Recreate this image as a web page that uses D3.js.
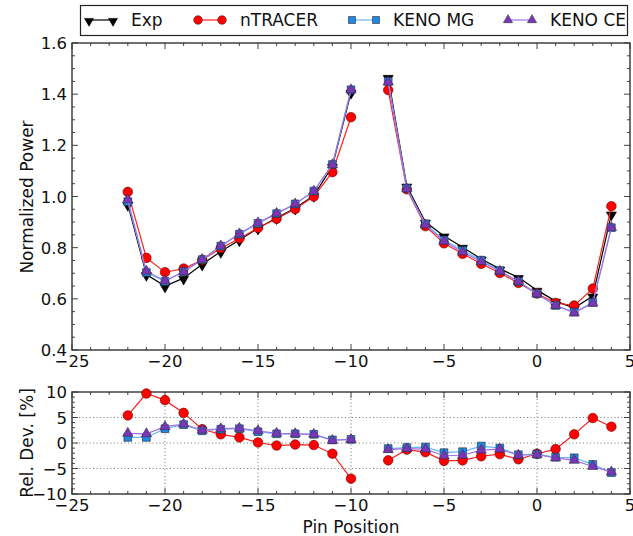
<!DOCTYPE html>
<html><head><meta charset="utf-8">
<script src="https://cdn.jsdelivr.net/npm/d3@7"></script>
<style>body{margin:0;background:#fff}svg{display:block;font-family:"DejaVu Sans",sans-serif}</style>
</head><body><svg id="c" width="633" height="536"></svg>
<script>
const pins = [-22,-21,-20,-19,-18,-17,-16,-15,-14,-13,-12,-11,-10,-8,-7,-6,-5,-4,-3,-2,-1,0,1,2,3,4];
const expPower = [0.969,0.695,0.650,0.681,0.735,0.785,0.830,0.876,0.917,0.954,1.004,1.118,1.407,1.466,1.041,0.900,0.846,0.802,0.756,0.717,0.684,0.634,0.591,0.564,0.611,0.932];
const ntracerPower = [1.018,0.760,0.704,0.718,0.752,0.798,0.836,0.877,0.913,0.951,1.000,1.095,1.310,1.416,1.028,0.884,0.817,0.776,0.737,0.701,0.662,0.621,0.584,0.574,0.640,0.962];
const kenoMGPower = [0.980,0.703,0.668,0.706,0.753,0.806,0.853,0.895,0.933,0.971,1.021,1.125,1.417,1.450,1.032,0.893,0.830,0.789,0.751,0.710,0.668,0.620,0.574,0.548,0.586,0.878];
const kenoCEPower = [0.987,0.708,0.671,0.706,0.754,0.807,0.854,0.897,0.934,0.971,1.021,1.124,1.417,1.447,1.030,0.889,0.825,0.783,0.745,0.708,0.668,0.619,0.574,0.545,0.583,0.879];
const ntracerDev = [5.4,9.7,8.4,5.9,2.7,1.7,1.1,0.1,-0.5,-0.3,-0.4,-2.1,-7.0,-3.4,-1.3,-1.8,-3.5,-3.4,-2.6,-2.2,-3.2,-2.1,-1.2,1.7,4.9,3.2];
const kenoMGDev = [1.1,1.1,2.8,3.6,2.4,2.7,2.8,2.2,1.8,1.8,1.7,0.6,0.7,-1.1,-0.9,-0.8,-1.9,-1.7,-0.6,-1.0,-2.3,-2.2,-2.8,-2.9,-4.2,-5.8];
const kenoCEDev = [1.9,1.8,3.2,3.7,2.5,2.8,2.9,2.4,1.9,1.8,1.7,0.5,0.7,-1.3,-1.1,-1.2,-2.5,-2.4,-1.4,-1.2,-2.4,-2.3,-2.9,-3.4,-4.6,-5.7];
const xTicks = [-25,-20,-15,-10,-5,0,5];
const yTicksTop = [0.4,0.6,0.8,1.0,1.2,1.4,1.6];
const yTicksBot = [-10,-5,0,5,10];
const seriesNames = ["Exp","nTRACER","KENO MG","KENO CE"];

const svg = d3.select("#c");
const L = 72, R = 630;
const x = d3.scaleLinear().domain([-25,5]).range([L,R]);
const yT = d3.scaleLinear().domain([0.4,1.6]).range([350,43]);
const yB = d3.scaleLinear().domain([-10,10]).range([494,392]);
const fmtMinus = s => String(s).replace("-", "\u2212");

const styles = {
  "Exp": {line:"#000", fill:"#000", stroke:"#000", sym:d3.symbolTriangle, size:44, rot:180},
  "nTRACER": {line:"#ff2020", fill:"#ff0000", stroke:"#600", sym:d3.symbolCircle, size:72, rot:0},
  "KENO MG": {line:"#6ab8f5", fill:"#1e8ae6", stroke:"#223", sym:d3.symbolSquare, size:60, rot:0},
  "KENO CE": {line:"#a070e8", fill:"#7a35b8", stroke:"#334", sym:d3.symbolTriangle, size:46, rot:0}
};

function frame(g, y, yTicks, yMinorStep, xMinor, grid, yfmt){
  const top = y.range()[1], bot = y.range()[0];
  const [y0,y1] = y.domain();
  if (grid){
    xTicks.slice(1,-1).forEach(t=>g.append("line").attr("x1",x(t)).attr("x2",x(t)).attr("y1",top).attr("y2",bot)
      .attr("stroke","#666").attr("stroke-width",0.9).attr("stroke-dasharray","1,2.5"));
    yTicks.slice(1,-1).forEach(t=>g.append("line").attr("x1",L).attr("x2",R).attr("y1",y(t)).attr("y2",y(t))
      .attr("stroke","#666").attr("stroke-width",0.9).attr("stroke-dasharray","1,2.5"));
  }
  for (let v=-25; v<=5; v+=xMinor){
    const major = xTicks.includes(v); const len = major?6:3;
    g.append("line").attr("x1",x(v)).attr("x2",x(v)).attr("y1",bot).attr("y2",bot-len).attr("stroke","#444");
    g.append("line").attr("x1",x(v)).attr("x2",x(v)).attr("y1",top).attr("y2",top+len).attr("stroke","#444");
  }
  const nMin = Math.round((y1-y0)/yMinorStep);
  for (let i=0;i<=nMin;i++){
    const v = y0 + i*yMinorStep;
    const major = yTicks.some(t=>Math.abs(t-v)<1e-6); const len = major?6:3;
    g.append("line").attr("x1",L).attr("x2",L+len).attr("y1",y(v)).attr("y2",y(v)).attr("stroke","#444");
    g.append("line").attr("x1",R).attr("x2",R-len).attr("y1",y(v)).attr("y2",y(v)).attr("stroke","#444");
  }
  g.append("rect").attr("x",L).attr("y",top).attr("width",R-L).attr("height",bot-top)
    .attr("fill","none").attr("stroke","#333").attr("stroke-width",1.4);
  xTicks.forEach(t=>g.append("text").attr("x",x(t)).attr("y",bot+17).attr("text-anchor","middle")
    .attr("font-size",16.5).attr("fill","#111").text(fmtMinus(t)));
  yTicks.forEach(t=>g.append("text").attr("x",L-5).attr("y",y(t)+6).attr("text-anchor","end")
    .attr("font-size",16.5).attr("fill","#111").text(fmtMinus(yfmt(t))));
}

function drawSeries(g, y, vals, name){
  const st = styles[name];
  const pts = pins.map((p,i)=>({p, v:vals[i]}));
  const line = d3.line().x(d=>x(d.p)).y(d=>y(d.v));
  const seg1 = pts.filter(d=>d.p<=-10), seg2 = pts.filter(d=>d.p>=-8);
  [seg1,seg2].forEach(s=>g.append("path").attr("d",line(s)).attr("fill","none").attr("stroke",st.line).attr("stroke-width",1.2));
  const sym = d3.symbol().type(st.sym).size(st.size);
  g.selectAll(null).data(pts).enter().append("path").attr("d",sym)
    .attr("transform",d=>`translate(${x(d.p)},${y(d.v)+(st.rot?1:0)}) rotate(${st.rot})`)
    .attr("fill",st.fill).attr("stroke",st.stroke).attr("stroke-width",0.6);
}

const gT = svg.append("g");
frame(gT, yT, yTicksTop, 0.05, 1, false, t=>t.toFixed(1));
drawSeries(gT, yT, expPower, "Exp");
drawSeries(gT, yT, ntracerPower, "nTRACER");
drawSeries(gT, yT, kenoMGPower, "KENO MG");
drawSeries(gT, yT, kenoCEPower, "KENO CE");

const gB = svg.append("g");
frame(gB, yB, yTicksBot, 1, 1, true, t=>String(t));
drawSeries(gB, yB, ntracerDev, "nTRACER");
drawSeries(gB, yB, kenoMGDev, "KENO MG");
drawSeries(gB, yB, kenoCEDev, "KENO CE");

svg.append("text").attr("transform","translate(33,197) rotate(-90)").attr("text-anchor","middle")
  .attr("font-size",17).attr("fill","#111").text("Normalized Power");
svg.append("text").attr("transform","translate(33,443) rotate(-90)").attr("text-anchor","middle")
  .attr("font-size",17).attr("fill","#111").text("Rel. Dev. [%]");
svg.append("text").attr("x",351).attr("y",533).attr("text-anchor","middle")
  .attr("font-size",17).attr("fill","#111").text("Pin Position");

// legend
const lg = svg.append("g");
lg.append("rect").attr("x",80.5).attr("y",5.5).attr("width",547).attr("height",30)
  .attr("fill","#fff").attr("stroke","#222").attr("stroke-width",1.2);
const legX = [{h:89, t:131},{h:198, t:240},{h:352, t:393},{h:508, t:550}];
seriesNames.forEach((n,i)=>{
  const st = styles[n]; const hx = legX[i].h, cy = 20;
  lg.append("line").attr("x1",hx).attr("x2",hx+24).attr("y1",cy).attr("y2",cy).attr("stroke",st.line).attr("stroke-width",1.2);
  const sym = d3.symbol().type(st.sym).size(st.size*0.8);
  [hx,hx+24].forEach(px=>lg.append("path").attr("d",sym).attr("transform",`translate(${px},${cy+(st.rot?1:0)}) rotate(${st.rot})`)
    .attr("fill",st.fill).attr("stroke",st.stroke).attr("stroke-width",0.6));
  lg.append("text").attr("x",legX[i].t).attr("y",cy+6).attr("font-size",17).attr("fill","#111").text(n);
});
</script></body></html>
